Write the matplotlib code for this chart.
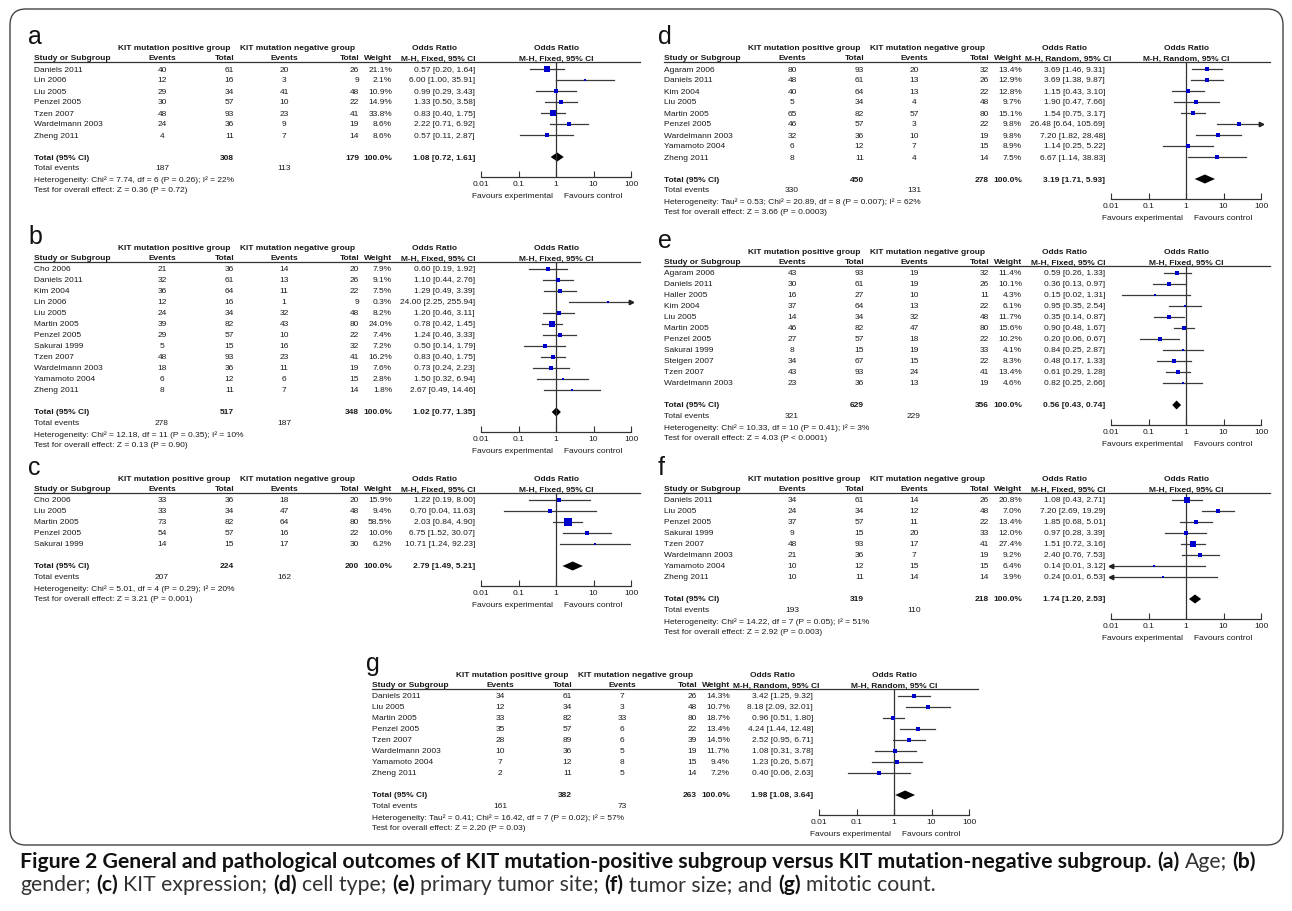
import numpy as np
import matplotlib
matplotlib.use('Agg')
import matplotlib.pyplot as plt
from matplotlib.patches import FancyBboxPatch
from matplotlib.ticker import NullLocator

W, H = 1292, 912
TAB = ['Liberation Sans Narrow', 'Liberation Sans', 'DejaVu Sans']
CAP = ['Lato', 'DejaVu Sans']
FS = 6.0
INK = '#1a1a1a'

# (a) age
studies_a = ['Daniels 2011', 'Lin 2006', 'Liu 2005', 'Penzel 2005', 'Tzen 2007', 'Wardelmann 2003', 'Zheng 2011']
ev1_a = [40, 12, 29, 30, 48, 24, 4]
n1_a = [61, 16, 34, 57, 93, 36, 11]
ev2_a = [20, 3, 41, 10, 23, 9, 7]
n2_a = [26, 9, 48, 22, 41, 19, 14]
wt_a = [21.1, 2.1, 10.9, 14.9, 33.8, 8.6, 8.6]
or_a = [0.57, 6.00, 0.99, 1.33, 0.83, 2.22, 0.57]
lo_a = [0.20, 1.00, 0.29, 0.50, 0.40, 0.71, 0.11]
hi_a = [1.64, 35.91, 3.43, 3.58, 1.75, 6.92, 2.87]
total_a = [308, 179, 1.08, 0.72, 1.61]
events_a = [187, 113]
het_a = 'Heterogeneity: Chi² = 7.74, df = 6 (P = 0.26); I² = 22%'
test_a = 'Test for overall effect: Z = 0.36 (P = 0.72)'

# (b) gender
studies_b = ['Cho 2006', 'Daniels 2011', 'Kim 2004', 'Lin 2006', 'Liu 2005', 'Martin 2005', 'Penzel 2005',
             'Sakurai 1999', 'Tzen 2007', 'Wardelmann 2003', 'Yamamoto 2004', 'Zheng 2011']
ev1_b = [21, 32, 36, 12, 24, 39, 29, 5, 48, 18, 6, 8]
n1_b = [36, 61, 64, 16, 34, 82, 57, 15, 93, 36, 12, 11]
ev2_b = [14, 13, 11, 1, 32, 43, 10, 16, 23, 11, 6, 7]
n2_b = [20, 26, 22, 9, 48, 80, 22, 32, 41, 19, 15, 14]
wt_b = [7.9, 9.1, 7.5, 0.3, 8.2, 24.0, 7.4, 7.2, 16.2, 7.6, 2.8, 1.8]
or_b = [0.60, 1.10, 1.29, 24.00, 1.20, 0.78, 1.24, 0.50, 0.83, 0.73, 1.50, 2.67]
lo_b = [0.19, 0.44, 0.49, 2.25, 0.46, 0.42, 0.46, 0.14, 0.40, 0.24, 0.32, 0.49]
hi_b = [1.92, 2.76, 3.39, 255.94, 3.11, 1.45, 3.33, 1.79, 1.75, 2.23, 6.94, 14.46]
total_b = [517, 348, 1.02, 0.77, 1.35]
events_b = [278, 187]
het_b = 'Heterogeneity: Chi² = 12.18, df = 11 (P = 0.35); I² = 10%'
test_b = 'Test for overall effect: Z = 0.13 (P = 0.90)'

# (c) KIT expression
studies_c = ['Cho 2006', 'Liu 2005', 'Martin 2005', 'Penzel 2005', 'Sakurai 1999']
ev1_c = [33, 33, 73, 54, 14]
n1_c = [36, 34, 82, 57, 15]
ev2_c = [18, 47, 64, 16, 17]
n2_c = [20, 48, 80, 22, 30]
wt_c = [15.9, 9.4, 58.5, 10.0, 6.2]
or_c = [1.22, 0.70, 2.03, 6.75, 10.71]
lo_c = [0.19, 0.04, 0.84, 1.52, 1.24]
hi_c = [8.00, 11.63, 4.90, 30.07, 92.23]
total_c = [224, 200, 2.79, 1.49, 5.21]
events_c = [207, 162]
het_c = 'Heterogeneity: Chi² = 5.01, df = 4 (P = 0.29); I² = 20%'
test_c = 'Test for overall effect: Z = 3.21 (P = 0.001)'

# (d) cell type
studies_d = ['Agaram 2006', 'Daniels 2011', 'Kim 2004', 'Liu 2005', 'Martin 2005', 'Penzel 2005',
             'Wardelmann 2003', 'Yamamoto 2004', 'Zheng 2011']
ev1_d = [80, 48, 40, 5, 65, 46, 32, 6, 8]
n1_d = [93, 61, 64, 34, 82, 57, 36, 12, 11]
ev2_d = [20, 13, 13, 4, 57, 3, 10, 7, 4]
n2_d = [32, 26, 22, 48, 80, 22, 19, 15, 14]
wt_d = [13.4, 12.9, 12.8, 9.7, 15.1, 9.8, 9.8, 8.9, 7.5]
or_d = [3.69, 3.69, 1.15, 1.90, 1.54, 26.48, 7.20, 1.14, 6.67]
lo_d = [1.46, 1.38, 0.43, 0.47, 0.75, 6.64, 1.82, 0.25, 1.14]
hi_d = [9.31, 9.87, 3.10, 7.66, 3.17, 105.69, 28.48, 5.22, 38.83]
total_d = [450, 278, 3.19, 1.71, 5.93]
events_d = [330, 131]
het_d = 'Heterogeneity: Tau² = 0.53; Chi² = 20.89, df = 8 (P = 0.007); I² = 62%'
test_d = 'Test for overall effect: Z = 3.66 (P = 0.0003)'

# (e) primary tumor site
studies_e = ['Agaram 2006', 'Daniels 2011', 'Haller 2005', 'Kim 2004', 'Liu 2005', 'Martin 2005',
             'Penzel 2005', 'Sakurai 1999', 'Steigen 2007', 'Tzen 2007', 'Wardelmann 2003']
ev1_e = [43, 30, 16, 37, 14, 46, 27, 8, 34, 43, 23]
n1_e = [93, 61, 27, 64, 34, 82, 57, 15, 67, 93, 36]
ev2_e = [19, 19, 10, 13, 32, 47, 18, 19, 15, 24, 13]
n2_e = [32, 26, 11, 22, 48, 80, 22, 33, 22, 41, 19]
wt_e = [11.4, 10.1, 4.3, 6.1, 11.7, 15.6, 10.2, 4.1, 8.3, 13.4, 4.6]
or_e = [0.59, 0.36, 0.15, 0.95, 0.35, 0.90, 0.20, 0.84, 0.48, 0.61, 0.82]
lo_e = [0.26, 0.13, 0.02, 0.35, 0.14, 0.48, 0.06, 0.25, 0.17, 0.29, 0.25]
hi_e = [1.33, 0.97, 1.31, 2.54, 0.87, 1.67, 0.67, 2.87, 1.33, 1.28, 2.66]
total_e = [629, 356, 0.56, 0.43, 0.74]
events_e = [321, 229]
het_e = 'Heterogeneity: Chi² = 10.33, df = 10 (P = 0.41); I² = 3%'
test_e = 'Test for overall effect: Z = 4.03 (P < 0.0001)'

# (f) tumor size
studies_f = ['Daniels 2011', 'Liu 2005', 'Penzel 2005', 'Sakurai 1999', 'Tzen 2007', 'Wardelmann 2003',
             'Yamamoto 2004', 'Zheng 2011']
ev1_f = [34, 24, 37, 9, 48, 21, 10, 10]
n1_f = [61, 34, 57, 15, 93, 36, 12, 11]
ev2_f = [14, 12, 11, 20, 17, 7, 15, 14]
n2_f = [26, 48, 22, 33, 41, 19, 15, 14]
wt_f = [20.8, 7.0, 13.4, 12.0, 27.4, 9.2, 6.4, 3.9]
or_f = [1.08, 7.20, 1.85, 0.97, 1.51, 2.40, 0.14, 0.24]
lo_f = [0.43, 2.69, 0.68, 0.28, 0.72, 0.76, 0.01, 0.01]
hi_f = [2.71, 19.29, 5.01, 3.39, 3.16, 7.53, 3.12, 6.53]
total_f = [319, 218, 1.74, 1.20, 2.53]
events_f = [193, 110]
het_f = 'Heterogeneity: Chi² = 14.22, df = 7 (P = 0.05); I² = 51%'
test_f = 'Test for overall effect: Z = 2.92 (P = 0.003)'

# (g) mitotic count
studies_g = ['Daniels 2011', 'Liu 2005', 'Martin 2005', 'Penzel 2005', 'Tzen 2007', 'Wardelmann 2003',
             'Yamamoto 2004', 'Zheng 2011']
ev1_g = [34, 12, 33, 35, 28, 10, 7, 2]
n1_g = [61, 34, 82, 57, 89, 36, 12, 11]
ev2_g = [7, 3, 33, 6, 6, 5, 8, 5]
n2_g = [26, 48, 80, 22, 39, 19, 15, 14]
wt_g = [14.3, 10.7, 18.7, 13.4, 14.5, 11.7, 9.4, 7.2]
or_g = [3.42, 8.18, 0.96, 4.24, 2.52, 1.08, 1.23, 0.40]
lo_g = [1.25, 2.09, 0.51, 1.44, 0.95, 0.31, 0.26, 0.06]
hi_g = [9.32, 32.01, 1.80, 12.48, 6.71, 3.78, 5.67, 2.63]
total_g = [382, 263, 1.98, 1.08, 3.64]
events_g = [161, 73]
het_g = 'Heterogeneity: Tau² = 0.41; Chi² = 16.42, df = 7 (P = 0.02); I² = 57%'
test_g = 'Test for overall effect: Z = 2.20 (P = 0.03)'

FIXED = 'M-H, Fixed, 95% CI'
RANDOM = 'M-H, Random, 95% CI'

cap1 = [('Figure 2 General and pathological outcomes of KIT mutation-positive subgroup versus '
         'KIT mutation-negative subgroup.', True), ('(a)', True), ('Age;', False), ('(b)', True)]
cap2 = [('gender;', False), ('(c)', True), ('KIT expression;', False), ('(d)', True), ('cell type;', False),
        ('(e)', True), ('primary tumor site;', False), ('(f)', True), ('tumor size; and', False),
        ('(g)', True), ('mitotic count.', False)]


def put(bg, x, y, s, ha='left', bold=False):
    bg.text(x, y, s, ha=ha, va='center', fontsize=FS, family=TAB,
            fontweight='bold' if bold else 'normal', color=INK)


def forest(fig, bg, letter, x0, top, method, studies, ev1, n1, ev2, n2, wt, ors, lo, hi,
           total, events, het, test):
    rows = top + 21 + 11 * np.arange(len(studies))
    line_y = top + 14
    y_tot = rows[-1] + 22
    y_het = y_tot + 22
    y_ax = y_het - 2
    x1 = x0 + 536

    bg.text(x0 + 8, top - 12, letter, fontsize=18, family='Liberation Sans',
            ha='left', va='center', color='#111')

    # header
    put(bg, x0 + 154, top, 'KIT mutation positive group', 'center', True)
    put(bg, x0 + 278, top, 'KIT mutation negative group', 'center', True)
    put(bg, x0 + 414, top, 'Odds Ratio', 'center', True)
    put(bg, x1, top, 'Odds Ratio', 'center', True)
    h2 = top + 10
    put(bg, x0 + 14, h2, 'Study or Subgroup', 'left', True)
    put(bg, x0 + 142, h2, 'Events', 'center', True)
    put(bg, x0 + 214, h2, 'Total', 'right', True)
    put(bg, x0 + 264, h2, 'Events', 'center', True)
    put(bg, x0 + 339, h2, 'Total', 'right', True)
    put(bg, x0 + 372, h2, 'Weight', 'right', True)
    put(bg, x0 + 418, h2, method, 'center', True)
    put(bg, x1, h2, method, 'center', True)
    bg.plot([x0 + 14, x0 + 620], [line_y, line_y], color='#333', lw=0.9)

    # study rows
    for i, y in enumerate(rows):
        put(bg, x0 + 14, y, studies[i])
        put(bg, x0 + 142, y, str(ev1[i]), 'center')
        put(bg, x0 + 214, y, str(n1[i]), 'right')
        put(bg, x0 + 264, y, str(ev2[i]), 'center')
        put(bg, x0 + 339, y, str(n2[i]), 'right')
        put(bg, x0 + 372, y, '%.1f%%' % wt[i], 'right')
        put(bg, x0 + 455, y, '%.2f [%.2f, %.2f]' % (ors[i], lo[i], hi[i]), 'right')

    put(bg, x0 + 14, y_tot, 'Total (95% CI)', 'left', True)
    put(bg, x0 + 214, y_tot, str(total[0]), 'right', True)
    put(bg, x0 + 339, y_tot, str(total[1]), 'right', True)
    put(bg, x0 + 372, y_tot, '100.0%', 'right', True)
    put(bg, x0 + 455, y_tot, '%.2f [%.2f, %.2f]' % tuple(total[2:]), 'right', True)
    put(bg, x0 + 14, y_tot + 11, 'Total events')
    put(bg, x0 + 142, y_tot + 11, str(events[0]), 'center')
    put(bg, x0 + 264, y_tot + 11, str(events[1]), 'center')
    put(bg, x0 + 14, y_het, het)
    put(bg, x0 + 14, y_het + 11, test)
    put(bg, x1 - 3, y_het + 17, 'Favours experimental', 'right')
    put(bg, x1 + 8, y_het + 17, 'Favours control', 'left')

    # forest plot
    ax = fig.add_axes([(x0 + 461) / W, 1 - y_ax / H, 150 / W, (y_ax - line_y) / H])
    ax.set_xscale('log')
    ax.set_xlim(0.01, 100)
    ax.set_ylim(y_ax, line_y)
    ax.patch.set_visible(False)
    for s in ['top', 'right', 'left']:
        ax.spines[s].set_visible(False)
    ax.spines['bottom'].set_color('#333')
    ax.spines['bottom'].set_linewidth(0.9)
    ax.set_yticks([])
    ax.set_xticks([0.01, 0.1, 1, 10, 100])
    ax.set_xticklabels(['0.01', '0.1', '1', '10', '100'], fontsize=FS, family=TAB, color=INK)
    ax.xaxis.set_minor_locator(NullLocator())
    ax.tick_params(axis='x', direction='in', length=4, width=0.8, pad=2.5, color='#333')
    ax.axvline(1, color='#333', lw=0.9)
    for i, y in enumerate(rows):
        ax.plot([lo[i], hi[i]], [y, y], color='#3a3a3a', lw=0.9)
        side = max(2.2, 1.15 * np.sqrt(wt[i]))
        ax.plot(ors[i], y, 's', ms=side * 0.72, color='#0000cc', mew=0)
        if hi[i] >= 100:
            ax.plot(100, y, '>', ms=3.2, color='#222', clip_on=False)
        if lo[i] <= 0.01:
            ax.plot(0.01, y, '<', ms=3.2, color='#222', clip_on=False)
    ax.fill([total[3], total[2], total[4], total[2]],
            [y_tot, y_tot - 4.5, y_tot, y_tot + 4.5], color='k', lw=0)


def caption_line(fig, x, y, pieces, size, draw=True):
    r = fig.canvas.get_renderer()
    gap = 0.26 * size * 100 / 72
    start = x
    for s, bold in pieces:
        t = fig.text(x / W, 1 - y / H, s, fontsize=size, family=CAP,
                     fontweight='bold' if bold else 'normal',
                     color='#111' if bold else '#333', va='center', ha='left')
        x += t.get_window_extent(r).width + gap
        if not draw:
            t.remove()
    return x - gap - start


fig = plt.figure(figsize=(W / 100, H / 100), dpi=100)
bg = fig.add_axes([0, 0, 1, 1])
bg.set_xlim(0, W)
bg.set_ylim(H, 0)
bg.axis('off')

bg.add_patch(FancyBboxPatch((10, 10), 1273, 836, boxstyle='round,pad=0,rounding_size=16',
                            fill=False, ec='#444', lw=1.0))

forest(fig, bg, 'a', 20, 49, FIXED, studies_a, ev1_a, n1_a, ev2_a, n2_a, wt_a, or_a, lo_a, hi_a,
       total_a, events_a, het_a, test_a)
forest(fig, bg, 'b', 20, 249, FIXED, studies_b, ev1_b, n1_b, ev2_b, n2_b, wt_b, or_b, lo_b, hi_b,
       total_b, events_b, het_b, test_b)
forest(fig, bg, 'c', 20, 480, FIXED, studies_c, ev1_c, n1_c, ev2_c, n2_c, wt_c, or_c, lo_c, hi_c,
       total_c, events_c, het_c, test_c)
forest(fig, bg, 'd', 650, 49, RANDOM, studies_d, ev1_d, n1_d, ev2_d, n2_d, wt_d, or_d, lo_d, hi_d,
       total_d, events_d, het_d, test_d)
forest(fig, bg, 'e', 650, 253, FIXED, studies_e, ev1_e, n1_e, ev2_e, n2_e, wt_e, or_e, lo_e, hi_e,
       total_e, events_e, het_e, test_e)
forest(fig, bg, 'f', 650, 480, FIXED, studies_f, ev1_f, n1_f, ev2_f, n2_f, wt_f, or_f, lo_f, hi_f,
       total_f, events_f, het_f, test_f)
forest(fig, bg, 'g', 358, 676, RANDOM, studies_g, ev1_g, n1_g, ev2_g, n2_g, wt_g, or_g, lo_g, hi_g,
       total_g, events_g, het_g, test_g)

# caption, sized so the first line runs to the right margin
w12 = caption_line(fig, 20, 862, cap1, 12, draw=False)
size = 12 * 1227 / w12
caption_line(fig, 20, 862, cap1, size)
caption_line(fig, 20, 885, cap2, size)

fig.savefig('out.png', dpi=100)
